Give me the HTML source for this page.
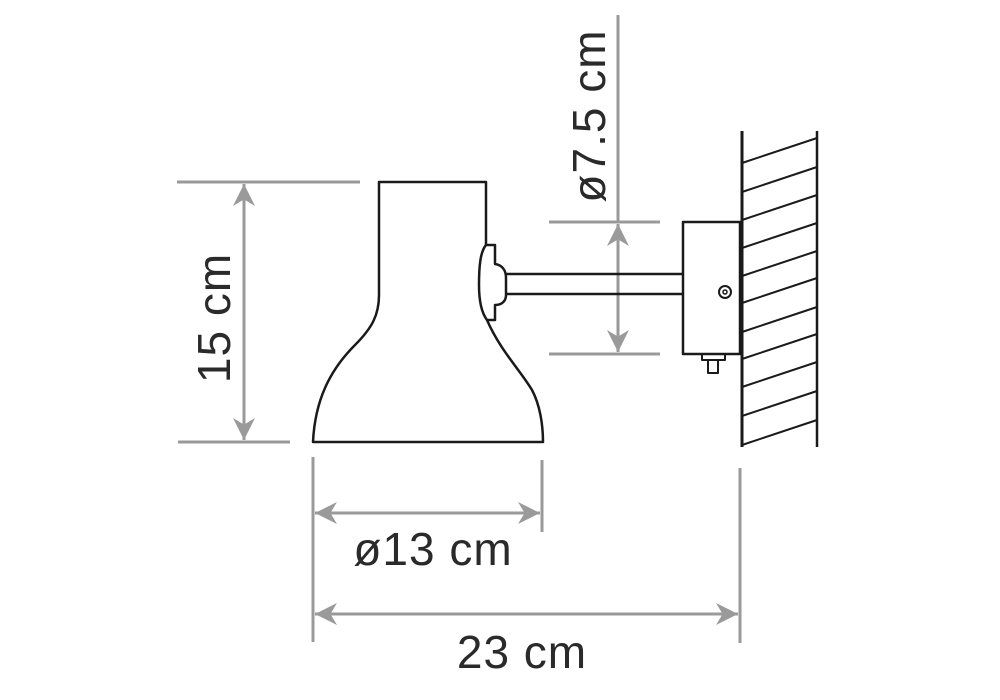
<!DOCTYPE html>
<html><head><meta charset="utf-8"><style>
html,body{margin:0;padding:0;background:#fff;}
svg{display:block;}
text{font-family:"Liberation Sans",sans-serif;fill:#2a2a2a;}
</style></head><body>
<svg width="1000" height="700" viewBox="0 0 1000 700" xmlns="http://www.w3.org/2000/svg">
<defs>
<marker id="b" viewBox="0 0 10 10" refX="10" refY="5" markerWidth="22" markerHeight="22" markerUnits="userSpaceOnUse" orient="auto-start-reverse"><path d="M0,0 L10,5 L0,10 L3,5 Z" fill="#9a9a9a"/></marker>
</defs>
<g stroke="#9a9a9a" stroke-width="3" fill="none">
<line x1="177" y1="182" x2="360" y2="182"/>
<line x1="178" y1="442" x2="290" y2="442"/>
<line x1="244" y1="184" x2="244" y2="440" marker-start="url(#b)" marker-end="url(#b)"/>
<line x1="313" y1="457" x2="313" y2="642"/>
<line x1="542" y1="460" x2="542" y2="532"/>
<line x1="740" y1="468" x2="740" y2="643"/>
<line x1="315" y1="513" x2="540" y2="513" marker-start="url(#b)" marker-end="url(#b)"/>
<line x1="315" y1="614" x2="738" y2="614" marker-start="url(#b)" marker-end="url(#b)"/>
<line x1="618" y1="15" x2="618" y2="222"/>
<line x1="549" y1="222" x2="660" y2="222"/>
<line x1="549" y1="354" x2="660" y2="354"/>
<line x1="618" y1="224" x2="618" y2="352" marker-start="url(#b)" marker-end="url(#b)"/>
</g>
<g stroke="#1a1a1a" stroke-width="2.5" fill="none" stroke-linejoin="round">
<path d="M487,320 C500,350 520,370 532,390 C540,405 543,425 543,442 L313,442 C315,400 330,370 355,345 C372,328 379,315 379,295 L379,182 L486,182 L486,245"/>
<path d="M486,245 L495,245 L495,264 C502,265 506,270 506,278 L506,295 C506,301 502,305 495,305 L495,320 L487,320 C481,312 479,300 479,285 C479,268 480,252 486,245 Z"/>
<line x1="506" y1="274" x2="683" y2="274"/>
<line x1="506" y1="294" x2="683" y2="294"/>
<rect x="683" y="222" width="57" height="132"/>
<circle cx="725" cy="292" r="6" stroke-width="2"/>
<circle cx="725" cy="292" r="2" stroke-width="1.5"/>
<rect x="702" y="354" width="23" height="6" stroke-width="2"/>
<rect x="708" y="360" width="10" height="13" stroke-width="2"/>
<line x1="742" y1="131" x2="742" y2="447" stroke-width="3"/>
<line x1="817" y1="131" x2="817" y2="447" stroke-width="2.5"/>
<g stroke-width="2">
<line x1="742" y1="163" x2="817" y2="138"/>
<line x1="742" y1="192" x2="817" y2="167"/>
<line x1="742" y1="220" x2="817" y2="195"/>
<line x1="742" y1="248" x2="817" y2="223"/>
<line x1="742" y1="276" x2="817" y2="251"/>
<line x1="742" y1="303" x2="817" y2="278"/>
<line x1="742" y1="332" x2="817" y2="307"/>
<line x1="742" y1="359" x2="817" y2="334"/>
<line x1="742" y1="387" x2="817" y2="362"/>
<line x1="742" y1="416" x2="817" y2="391"/>
<line x1="742" y1="445" x2="817" y2="420"/>
</g>
</g>
<text x="0" y="0" font-size="46" letter-spacing="1" text-anchor="middle" transform="translate(230,318) rotate(-90)">15 cm</text>
<text x="0" y="0" font-size="46" letter-spacing="1" text-anchor="middle" transform="translate(605,116) rotate(-90)">ø7.5 cm</text>
<text x="433" y="565" font-size="46" letter-spacing="1" text-anchor="middle">ø13 cm</text>
<text x="522" y="668" font-size="46" letter-spacing="1" text-anchor="middle">23 cm</text>
</svg>
</body></html>
